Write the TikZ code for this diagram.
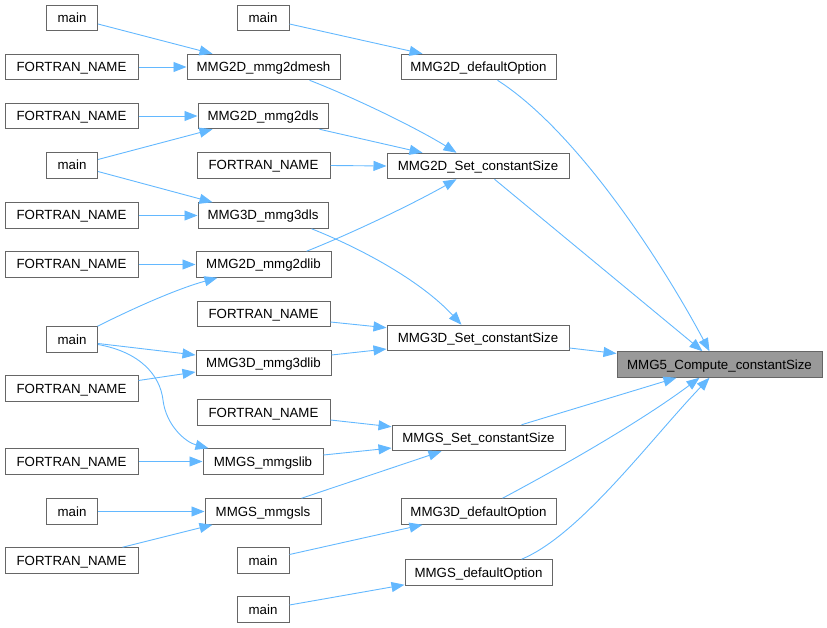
\documentclass[tikz,border=0pt]{standalone}
\usepackage{fontspec}
\setmainfont{Liberation Sans}
\usetikzlibrary{arrows.meta,calc}
\definecolor{boxborder}{HTML}{666666}
\definecolor{edgecol}{HTML}{63B8FF}
\definecolor{hl}{HTML}{999999}
\tikzset{
  box/.style={draw=boxborder, fill=white, line width=1pt, minimum height=25.5pt,
    inner sep=0pt, text height=9.5pt, text depth=0.5pt,
    font=\fontsize{13.3}{16}\selectfont},
  fn/.style={box, minimum width=133pt},
  mn/.style={box, minimum width=51pt},
  edge/.style={draw=edgecol, line width=0.9pt, -{Triangle[length=13pt,width=10pt]}},
}
\begin{document}
\begin{tikzpicture}[x=1pt,y=-1pt]
\path[use as bounding box] (0,0) rectangle (827,628);
% column 1
\node[mn] (m1) at (72,18) {main};
\node[fn] (f1) at (71.5,67) {FORTRAN\_NAME};
\node[fn] (f2) at (71.5,116) {FORTRAN\_NAME};
\node[mn] (m2) at (72,165.5) {main};
\node[fn] (f3) at (71.5,215.5) {FORTRAN\_NAME};
\node[fn] (f4) at (71.5,264.5) {FORTRAN\_NAME};
\node[mn] (m3) at (72,339.5) {main};
\node[fn] (f5) at (71.5,388.5) {FORTRAN\_NAME};
\node[fn] (f6) at (71.5,461.5) {FORTRAN\_NAME};
\node[mn] (m4) at (72,511.5) {main};
\node[fn] (f7) at (71.5,560.5) {FORTRAN\_NAME};
% column 2
\node[mn, minimum width=52pt] (ma) at (263,18) {main};
\node[box, minimum width=153pt] (mesh2) at (263.5,67) {MMG2D\_mmg2dmesh};
\node[box, minimum width=130pt] (dls2) at (263,116) {MMG2D\_mmg2dls};
\node[fn] (fa) at (263.5,165.5) {FORTRAN\_NAME};
\node[box, minimum width=130pt] (dls3) at (263,215.5) {MMG3D\_mmg3dls};
\node[box, minimum width=135pt] (lib2) at (263.5,264.5) {MMG2D\_mmg2dlib};
\node[fn] (fb) at (263.5,314) {FORTRAN\_NAME};
\node[box, minimum width=135pt] (lib3) at (263.5,363) {MMG3D\_mmg3dlib};
\node[fn] (fc) at (263.5,412.5) {FORTRAN\_NAME};
\node[box, minimum width=120pt] (slib) at (263,461.5) {MMGS\_mmgslib};
\node[box, minimum width=116pt] (sls) at (263,511.5) {MMGS\_mmgsls};
\node[mn, minimum width=52pt] (mb) at (263,560.5) {main};
\node[mn, minimum width=52pt] (mc) at (263,609.5) {main};
% column 3
\node[box, minimum width=155pt] (defA) at (478.5,67) {MMG2D\_defaultOption};
\node[box, minimum width=182pt] (set2) at (478,166) {MMG2D\_Set\_constantSize};
\node[box, minimum width=182pt] (set3) at (478,338) {MMG3D\_Set\_constantSize};
\node[box, minimum width=173pt] (setS) at (478.5,438) {MMGS\_Set\_constantSize};
\node[box, minimum width=155pt] (def3) at (478.5,511.5) {MMG3D\_defaultOption};
\node[box, minimum width=147pt] (defS) at (478.5,572.5) {MMGS\_defaultOption};
% target
\node[box, fill=hl, minimum width=205pt] (m5) at (719.5,364.5) {MMG5\_Compute\_constantSize};
% edges into column 2
\draw[edge] ($(m1.east)+(0,6)$) -- ($(mesh2.north west)+(26,0)$);
\draw[edge] (f1.east) -- (mesh2.west);
\draw[edge] (f2.east) -- (dls2.west);
\draw[edge] ($(m2.east)+(0,-6)$) -- ($(dls2.south west)+(15,0)$);
\draw[edge] ($(m2.east)+(0,6)$) -- ($(dls3.north west)+(15,0)$);
\draw[edge] (f3.east) -- (dls3.west);
\draw[edge] (f4.east) -- (lib2.west);
\draw[edge] ($(m3.north east)+(-0.5,0)$) .. controls (140,305) and (180,288) .. ($(lib2.south west)+(22,0)$);
\draw[edge] ($(m3.east)+(0,4)$) -- ($(lib3.west)+(0,-8)$);
\draw[edge] ($(f5.east)+(0,-8)$) -- ($(lib3.west)+(0,9)$);
\draw[edge] ($(m3.east)+(0,5)$) .. controls (140,352) and (160,375) .. (163,400) .. controls (166,425) and (185,442) .. ($(slib.north west)+(6,0)$);
\draw[edge] (f6.east) -- (slib.west);
\draw[edge] (m4.east) -- (sls.west);
\draw[edge] ($(f7.north west)+(118,0)$) -- ($(sls.south west)+(8,0)$);
% edges into column 3
\draw[edge] ($(ma.east)+(0,6)$) -- ($(defA.north west)+(22,0)$);
\draw[edge] ($(mesh2.south west)+(123,0)$) .. controls (360,100) and (420,130) .. ($(set2.north west)+(70,0)$);
\draw[edge] ($(dls2.south west)+(122,0)$) -- ($(set2.north west)+(36,0)$);
\draw[edge] (fa.east) -- (set2.west);
\draw[edge] ($(lib2.north west)+(111,0)$) .. controls (360,230) and (420,200) .. ($(set2.south west)+(70,0)$);
\draw[edge] ($(dls3.south west)+(114,0)$) .. controls (360,248) and (420,280) .. ($(set3.north west)+(75,0)$);
\draw[edge] ($(fb.east)+(0,8)$) -- ($(set3.north west)+(0,3)$);
\draw[edge] ($(lib3.east)+(0,-8)$) -- ($(set3.west)+(0,11)$);
\draw[edge] ($(fc.east)+(0,7.5)$) -- ($(setS.north west)+(0,2)$);
\draw[edge] ($(slib.east)+(0,-6.5)$) -- ($(setS.west)+(0,10)$);
\draw[edge] ($(sls.north west)+(97,0)$) -- ($(setS.south west)+(50,0)$);
\draw[edge] ($(mb.east)+(0,-6)$) -- ($(def3.south west)+(22,0)$);
\draw[edge] ($(mc.east)+(0,-4.5)$) -- ($(defS.south west)+(0,-1)$);
% edges into target
\draw[edge] ($(defA.south west)+(97,0)$) .. controls (578,132) and (663,264) .. ($(m5.north west)+(93,0)$);
\draw[edge] ($(set2.south west)+(108,0)$) -- ($(m5.north west)+(86,0)$);
\draw[edge] ($(set3.east)+(0,10)$) -- ($(m5.west)+(0,-11)$);
\draw[edge] ($(setS.north west)+(130,0)$) -- ($(m5.south west)+(60,0)$);
\draw[edge] ($(def3.north west)+(102,0)$) .. controls (563,466) and (640,422) .. ($(m5.south west)+(83,0)$);
\draw[edge] ($(defS.north west)+(117,0)$) .. controls (580,535) and (650,440) .. ($(m5.south west)+(93,0)$);
\end{tikzpicture}
\end{document}
